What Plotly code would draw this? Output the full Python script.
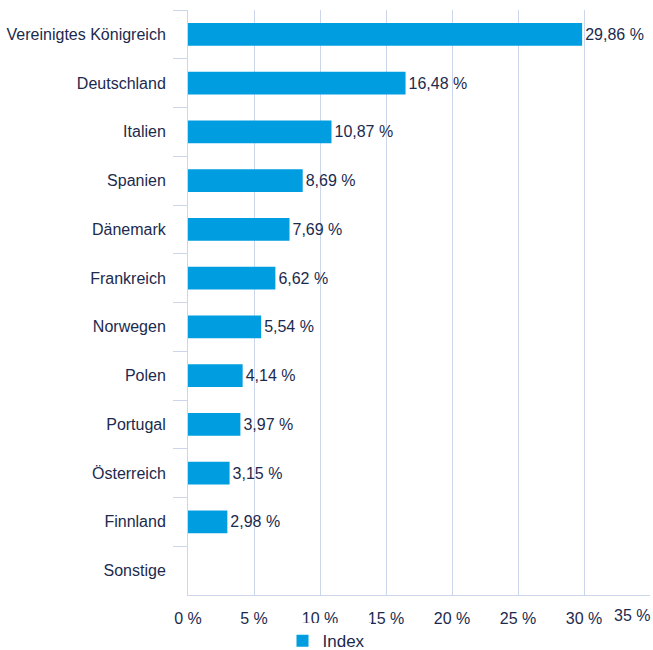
import plotly.graph_objects as go

categories = ["Vereinigtes Königreich", "Deutschland", "Italien", "Spanien", "Dänemark",
              "Frankreich", "Norwegen", "Polen", "Portugal", "Österreich", "Finnland", "Sonstige"]
values = [29.86, 16.48, 10.87, 8.69, 7.69, 6.62, 5.54, 4.14, 3.97, 3.15, 2.98, None]
tick_vals = [0, 5, 10, 15, 20, 25, 30, 35]
tick_text = ["0 %", "5 %", "10 %", "15 %", "20 %", "25 %", "30 %", "35 %"]
series_name = "Index"

def fmt(v):
    return "" if v is None else f"{v:.2f}".replace(".", ",") + " %"

text_color = "#1c2a4e"
grid_color = "#ccd6eb"
bar_color = "#009ee0"
font_family = "Liberation Sans, Arial, sans-serif"

fig = go.Figure()
fig.add_trace(go.Bar(
    y=categories, x=values, orientation="h", name=series_name,
    marker=dict(color=bar_color, line=dict(width=0)),
    text=[fmt(v) for v in values], textposition="outside",
    textfont=dict(size=16, color=text_color, family=font_family),
    cliponaxis=False, showlegend=True,
))

fig.update_layout(
    width=653, height=650,
    margin=dict(l=188, r=3, t=10, b=55, autoexpand=False),
    paper_bgcolor="white", plot_bgcolor="white",
    font=dict(family=font_family, size=16, color=text_color),
    bargap=0.53,
    legend=dict(orientation="h", xref="container", yref="paper", x=0.5, y=-0.079,
                xanchor="center", yanchor="middle", font=dict(size=17, color=text_color),
                itemwidth=30),
)
fig.update_yaxes(
    type="category", categoryorder="array", categoryarray=categories,
    autorange="reversed", tickson="boundaries", ticks="outside", ticklen=14,
    tickcolor=grid_color, showline=True, linecolor=grid_color, linewidth=1,
    showgrid=False, ticklabelstandoff=18, tickfont=dict(size=16, color=text_color),
    automargin=False,
)
fig.update_xaxes(
    range=[0, 35], tickvals=tick_vals,
    ticktext=tick_text[:-1] + [""],
    showgrid=True, gridcolor=grid_color, gridwidth=1,
    showline=True, linecolor=grid_color, linewidth=1, zeroline=False,
    ticks="", ticklabelstandoff=9, tickfont=dict(size=16, color=text_color),
    automargin=False,
)
fig.add_annotation(x=tick_vals[-1], y=0, xref="x", yref="paper", text=tick_text[-1],
                   showarrow=False, xanchor="right", yanchor="top", yshift=-10, xshift=2,
                   font=dict(size=16, color=text_color, family=font_family))

fig.write_html("out.html", config={"displayModeBar": False},
               post_script="document.body.style.margin='0';document.body.style.overflow='hidden';")
